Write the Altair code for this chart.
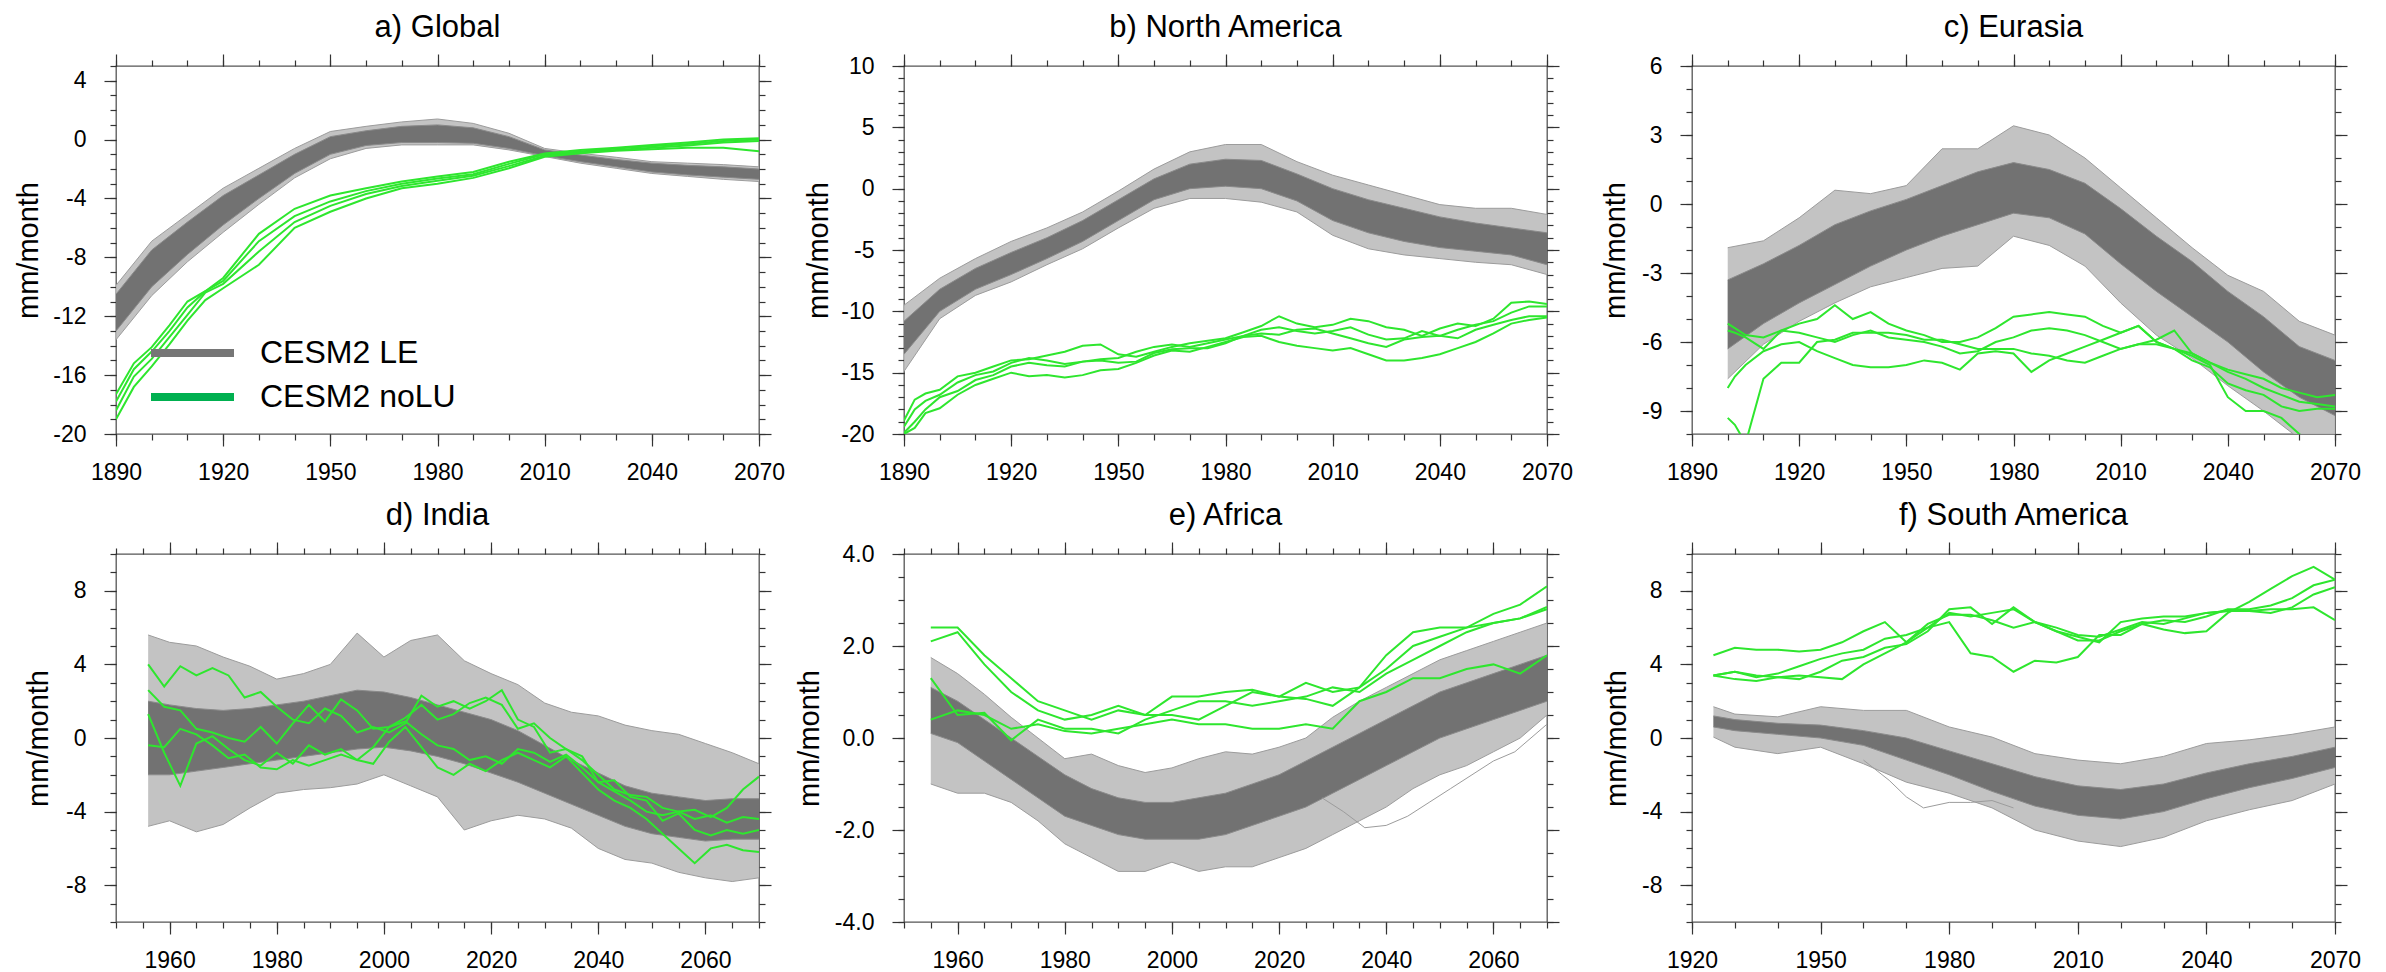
import altair as alt
import pandas as pd

FONT = "Liberation Sans"
GREEN = "#2ee62e"
CORE = "#6e6e6e"
ENV = "#bdbdbd"
EDGE = "#9c9c9c"
LEG_GRAY = "#767676"
LEG_GREEN = "#00b050"
TICK = "#333333"
FRAME = "#555555"

TITLES = ["a) Global", "b) North America", "c) Eurasia", "d) India", "e) Africa", "f) South America"]
Y_TITLE = "mm/month"
LEGEND_LABELS = ["CESM2 LE", "CESM2 noLU"]

# ---------------- a) Global ----------------
A_YEARS = [1890, 1900, 1910, 1920, 1930, 1940, 1950, 1960, 1970, 1980, 1990, 2000, 2010, 2020, 2030, 2040, 2050, 2060, 2070]
A_ENV_TOP = [-9.9, -6.9, -5.1, -3.3, -1.95, -0.6, 0.55, 0.9, 1.2, 1.4, 1.1, 0.43, -0.6, -0.93, -1.2, -1.5, -1.6, -1.7, -1.85]
A_ENV_BOT = [-13.6, -10.6, -8.3, -6.3, -4.4, -2.6, -1.3, -0.6, -0.36, -0.36, -0.36, -0.7, -1.15, -1.6, -1.95, -2.3, -2.5, -2.7, -2.85]
A_CORE_TOP = [-10.5, -7.5, -5.6, -3.8, -2.4, -1.0, 0.2, 0.6, 0.9, 1.0, 0.8, 0.2, -0.7, -1.05, -1.35, -1.6, -1.75, -1.85, -2.0]
A_CORE_BOT = [-13.0, -10.0, -7.8, -5.8, -4.0, -2.3, -1.0, -0.4, -0.2, -0.2, -0.25, -0.6, -1.1, -1.5, -1.85, -2.2, -2.4, -2.55, -2.7]
A_G_YEARS = [1890, 1895, 1900, 1905, 1910, 1915, 1920, 1930, 1940, 1950, 1960, 1970, 1980, 1990, 2000, 2010, 2020, 2030, 2040, 2050, 2060, 2070]
A_G1 = [-17.3, -15.2, -14.1, -12.6, -11.0, -10.3, -9.4, -6.4, -4.7, -3.8, -3.3, -2.85, -2.5, -2.2, -1.5, -0.95, -0.7, -0.55, -0.36, -0.2, 0.0, 0.1]
A_G2 = [-17.8, -15.6, -14.4, -13.0, -11.4, -10.3, -9.6, -6.9, -5.2, -4.2, -3.5, -3.0, -2.65, -2.35, -1.65, -1.0, -0.8, -0.6, -0.45, -0.3, -0.1, 0.0]
A_G3 = [-18.4, -16.1, -14.9, -13.4, -11.9, -10.4, -9.8, -7.6, -5.6, -4.5, -3.7, -3.15, -2.8, -2.45, -1.8, -1.1, -0.85, -0.7, -0.55, -0.4, -0.2, -0.1]
A_G4 = [-19.0, -16.8, -15.4, -13.9, -12.3, -10.9, -10.1, -8.5, -6.0, -4.9, -4.0, -3.3, -3.0, -2.6, -1.95, -1.16, -0.93, -0.75, -0.65, -0.55, -0.55, -0.8]

# ---------------- b) North America ----------------
B_YEARS = [1890, 1900, 1910, 1920, 1930, 1940, 1950, 1960, 1970, 1980, 1990, 2000, 2010, 2020, 2030, 2040, 2050, 2060, 2070]
B_ENV_TOP = [-9.5, -7.3, -5.7, -4.3, -3.2, -1.9, -0.2, 1.6, 3.0, 3.6, 3.6, 2.2, 1.1, 0.3, -0.5, -1.3, -1.6, -1.6, -2.1]
B_ENV_BOT = [-14.9, -10.6, -8.7, -7.6, -6.2, -4.9, -3.2, -1.6, -0.8, -0.8, -1.1, -1.9, -3.8, -4.9, -5.4, -5.7, -6.0, -6.2, -7.0]
B_CORE_TOP = [-10.8, -8.2, -6.5, -5.2, -4.0, -2.6, -0.9, 0.8, 2.0, 2.4, 2.3, 1.2, 0.0, -0.9, -1.6, -2.3, -2.8, -3.2, -3.6]
B_CORE_BOT = [-13.5, -10.0, -8.2, -7.0, -5.7, -4.3, -2.6, -0.9, 0.0, 0.2, 0.0, -1.0, -2.6, -3.6, -4.3, -4.8, -5.1, -5.4, -6.2]
B_G_YEARS = [1890, 1893, 1896, 1900, 1905, 1910, 1915, 1920, 1925, 1930, 1935, 1940, 1945, 1950, 1955, 1960, 1965, 1970, 1975,
             1980, 1985, 1990, 1995, 2000, 2005, 2010, 2015, 2020, 2025, 2030, 2035, 2040, 2045, 2050, 2055, 2060, 2065, 2070]
B_G1 = [-18.9, -17.2, -16.7, -16.4, -15.3, -15.0, -14.5, -14.0, -13.9, -13.6, -13.3, -12.8, -12.7, -13.5, -13.7, -13.3, -12.9, -12.6, -12.4,
        -12.2, -11.7, -11.2, -10.4, -11.0, -11.3, -11.1, -10.6, -10.8, -11.3, -11.5, -12.0, -11.4, -11.0, -11.2, -10.6, -9.3, -9.2, -9.4]
B_G2 = [-19.4, -18.0, -17.3, -16.8, -15.8, -15.2, -14.9, -14.2, -13.8, -14.0, -14.3, -14.1, -13.9, -13.8, -13.3, -12.9, -12.7, -12.9, -12.6,
        -12.3, -12.0, -11.5, -11.3, -11.6, -11.8, -11.6, -11.3, -11.9, -12.3, -12.2, -11.6, -12.0, -11.5, -11.1, -10.8, -10.1, -9.6, -9.6]
B_G3 = [-19.9, -19.0, -18.0, -17.0, -16.5, -15.6, -15.2, -14.5, -14.2, -14.4, -14.5, -14.1, -14.0, -14.2, -14.1, -13.4, -13.1, -13.0, -13.0,
        -12.6, -12.0, -11.8, -11.9, -11.5, -11.4, -11.8, -12.2, -12.6, -12.9, -12.3, -12.1, -12.0, -12.2, -11.5, -11.1, -10.7, -10.4, -10.4]
B_G4 = [-20.0, -19.5, -18.3, -17.9, -16.8, -16.0, -15.5, -15.0, -15.3, -15.2, -15.4, -15.2, -14.8, -14.7, -14.2, -13.6, -13.2, -13.3, -12.9,
        -12.5, -12.1, -12.0, -12.5, -12.8, -13.0, -13.2, -13.0, -13.5, -14.0, -14.0, -13.8, -13.5, -13.0, -12.5, -11.8, -11.0, -10.7, -10.5]

# ---------------- c) Eurasia ----------------
C_YEARS = [1900, 1910, 1920, 1930, 1940, 1950, 1960, 1970, 1980, 1990, 2000, 2010, 2020, 2030, 2040, 2050, 2060, 2070]
C_ENV_TOP = [-1.9, -1.6, -0.6, 0.6, 0.45, 0.8, 2.4, 2.4, 3.4, 3.0, 2.0, 0.7, -0.6, -1.9, -3.1, -3.8, -5.1, -5.7]
C_ENV_BOT = [-7.6, -6.1, -5.1, -4.3, -3.6, -3.2, -2.8, -2.7, -1.4, -1.8, -2.7, -4.3, -5.7, -6.7, -7.9, -9.0, -10.2, -10.4]
C_CORE_TOP = [-3.3, -2.6, -1.8, -0.9, -0.3, 0.2, 0.8, 1.4, 1.8, 1.5, 0.9, -0.2, -1.4, -2.5, -3.8, -4.9, -6.2, -6.8]
C_CORE_BOT = [-6.3, -5.2, -4.3, -3.5, -2.7, -2.0, -1.4, -0.9, -0.4, -0.6, -1.3, -2.6, -3.8, -4.9, -6.0, -7.3, -8.4, -9.2]
C_G_YEARS = [1900, 1902, 1905, 1910, 1915, 1920, 1925, 1930, 1935, 1940, 1945, 1950, 1955, 1960, 1965, 1970, 1975, 1980,
             1985, 1990, 1995, 2000, 2005, 2010, 2015, 2020, 2025, 2030, 2035, 2040, 2045, 2050, 2055, 2060, 2065, 2070]
C_G1 = [-5.2, -5.4, -5.7, -5.8, -5.5, -5.2, -5.0, -4.4, -5.0, -4.7, -5.2, -5.5, -5.7, -6.0, -6.0, -5.8, -5.4, -4.9,
        -4.8, -4.7, -4.8, -4.9, -5.3, -5.6, -5.3, -6.0, -6.3, -6.5, -6.9, -7.2, -7.4, -7.6, -8.0, -8.2, -8.4, -8.3]
C_G2 = [-5.5, -5.6, -5.8, -6.3, -5.5, -5.6, -5.8, -6.0, -5.7, -5.5, -5.8, -5.9, -6.0, -6.2, -6.5, -6.4, -6.0, -5.8,
        -5.5, -5.4, -5.5, -5.7, -6.0, -6.3, -6.1, -5.9, -5.5, -6.5, -6.9, -7.3, -7.6, -8.0, -8.3, -8.6, -8.7, -8.8]
C_G3 = [-8.0, -7.5, -7.0, -6.4, -6.1, -6.0, -6.4, -6.7, -7.0, -7.1, -7.1, -7.0, -6.8, -6.9, -7.2, -6.5, -6.4, -6.5,
        -7.3, -6.8, -6.5, -6.2, -5.9, -5.6, -5.3, -6.0, -6.3, -6.8, -7.1, -7.8, -8.1, -8.3, -8.8, -9.0, -8.9, -8.9]
C_G4 = [-9.3, -9.6, -10.4, -7.6, -6.9, -6.9, -6.0, -5.9, -5.6, -5.6, -5.6, -5.7, -5.9, -5.9, -6.1, -6.3, -6.3, -6.3,
        -6.5, -6.6, -6.8, -6.9, -6.6, -6.3, -6.1, -6.1, -6.3, -6.6, -7.0, -8.4, -9.0, -9.0, -9.3, -10.0, -10.6, -10.9]

# ---------------- d) India ----------------
D_YEARS = [1956, 1960, 1965, 1970, 1975, 1980, 1985, 1990, 1995, 2000, 2005, 2010, 2015, 2020, 2025, 2030, 2035, 2040,
           2045, 2050, 2055, 2060, 2065, 2070]
D_ENV_TOP = [5.6, 5.2, 5.0, 4.4, 3.9, 3.2, 3.5, 4.0, 5.7, 4.4, 5.3, 5.6, 4.2, 3.5, 2.9, 1.9, 1.4, 1.2, 0.7, 0.4, 0.2, -0.3, -0.8, -1.4]
D_ENV_BOT = [-4.8, -4.5, -5.1, -4.7, -3.8, -3.0, -2.8, -2.7, -2.5, -2.0, -2.6, -3.2, -5.0, -4.5, -4.2, -4.4, -4.9, -6.0, -6.6, -6.8, -7.3, -7.6, -7.8, -7.6]
D_CORE_TOP = [2.0, 1.8, 1.6, 1.5, 1.6, 1.8, 2.0, 2.3, 2.6, 2.5, 2.2, 1.8, 1.4, 1.0, 0.4, -0.4, -1.2, -1.9, -2.6, -3.0, -3.2, -3.4, -3.3, -3.3]
D_CORE_BOT = [-2.0, -2.0, -1.8, -1.6, -1.4, -1.2, -1.0, -0.8, -0.6, -0.5, -0.7, -1.0, -1.4, -1.9, -2.4, -3.0, -3.6, -4.2, -4.8, -5.2, -5.4, -5.6, -5.5, -5.5]
D_G_YEARS = [1956, 1959, 1962, 1965, 1968, 1971, 1974, 1977, 1980, 1983, 1986, 1989, 1992, 1995, 1998, 2001, 2004, 2007, 2010, 2013,
             2016, 2019, 2022, 2025, 2028, 2031, 2034, 2037, 2040, 2043, 2046, 2049, 2052, 2055, 2058, 2061, 2064, 2067, 2070]
D_G1 = [4.0, 2.8, 3.9, 3.4, 3.8, 3.4, 2.2, 2.5, 1.7, 1.0, 0.8, 1.6, 1.2, 0.3, 0.6, 0.3, 0.8, 2.3, 1.7, 2.0,
        1.6, 2.0, 2.6, 1.0, 0.6, -0.8, -0.6, -1.2, -2.0, -2.8, -3.1, -3.2, -3.8, -4.0, -3.9, -4.3, -3.8, -2.8, -2.1]
D_G2 = [2.6, 1.7, 1.5, 0.5, 0.3, 0.0, -0.2, 0.6, -0.3, 0.8, 1.8, 0.9, 2.1, 1.5, 0.5, 0.6, 1.1, 1.8, 1.0, 1.3,
        1.9, 2.2, 1.8, 0.5, 0.8, 0.0, -0.6, -1.0, -2.4, -2.3, -3.2, -3.4, -4.5, -4.1, -5.0, -5.3, -5.0, -5.2, -5.0]
D_G3 = [1.3, -0.8, -2.6, -0.3, 0.1, -0.6, -1.2, -1.5, -0.8, -1.4, -0.4, -0.9, -0.6, -1.2, -0.5, 0.6, 0.9, 0.2, -0.4, -0.6,
        -1.2, -1.0, -1.4, -0.6, -0.8, -1.3, -0.9, -1.6, -2.4, -2.9, -3.4, -4.0, -4.2, -4.0, -4.4, -4.2, -4.6, -4.3, -4.4]
D_G4 = [-0.4, -0.5, 0.5, 0.2, -0.4, -1.1, -0.9, -1.6, -1.7, -1.2, -1.5, -1.2, -0.9, -1.2, -1.4, -0.2, 0.6, -0.5, -1.6, -2.0,
        -1.4, -1.8, -1.2, -0.8, -1.2, -1.6, -1.0, -1.9, -2.8, -3.4, -3.8, -4.4, -5.2, -6.0, -6.8, -6.0, -5.8, -6.1, -6.2]

# ---------------- e) Africa ----------------
E_YEARS = [1955, 1960, 1965, 1970, 1975, 1980, 1985, 1990, 1995, 2000, 2005, 2010, 2015, 2020, 2025, 2030, 2035, 2040,
           2045, 2050, 2055, 2060, 2065, 2070]
E_ENV_TOP = [1.75, 1.4, 0.95, 0.45, 0.0, -0.45, -0.35, -0.6, -0.75, -0.65, -0.45, -0.3, -0.35, -0.2, 0.0, 0.45, 0.8, 1.1, 1.4, 1.7, 1.9, 2.1, 2.3, 2.5]
E_ENV_BOT = [-1.0, -1.2, -1.2, -1.4, -1.8, -2.3, -2.6, -2.9, -2.9, -2.7, -2.9, -2.8, -2.8, -2.6, -2.4, -2.1, -1.8, -1.5, -1.1, -0.8, -0.6, -0.3, 0.0, 0.5]
E_CORE_TOP = [1.1, 0.8, 0.4, 0.0, -0.4, -0.8, -1.1, -1.3, -1.4, -1.4, -1.3, -1.2, -1.0, -0.8, -0.5, -0.2, 0.1, 0.4, 0.7, 1.0, 1.2, 1.4, 1.6, 1.8]
E_CORE_BOT = [0.1, -0.1, -0.5, -0.9, -1.3, -1.7, -1.9, -2.1, -2.2, -2.2, -2.2, -2.1, -1.9, -1.7, -1.5, -1.2, -0.9, -0.6, -0.3, 0.0, 0.2, 0.4, 0.6, 0.8]
E_OUT_YEARS = [2028, 2032, 2036, 2040, 2044, 2048, 2052, 2056, 2060, 2064, 2070]
E_OUT = [-1.3, -1.6, -1.95, -1.9, -1.7, -1.4, -1.1, -0.8, -0.5, -0.3, 0.3]
E_G1 = [2.4, 2.4, 1.8, 1.3, 0.8, 0.6, 0.4, 0.6, 0.5, 0.9, 0.9, 1.0, 1.05, 0.9, 1.2, 1.0, 1.1, 1.8, 2.3, 2.4, 2.4, 2.7, 2.9, 3.3]
E_G2 = [2.1, 2.3, 1.6, 1.0, 0.6, 0.4, 0.5, 0.7, 0.5, 0.5, 0.4, 0.7, 1.0, 0.9, 0.85, 0.7, 1.1, 1.5, 2.0, 2.2, 2.4, 2.5, 2.6, 2.85]
E_G3 = [1.3, 0.5, 0.55, -0.05, 0.4, 0.2, 0.2, 0.1, 0.4, 0.6, 0.8, 0.8, 0.7, 0.8, 0.9, 1.1, 1.0, 1.4, 1.7, 2.0, 2.3, 2.5, 2.6, 2.8]
E_G4 = [0.4, 0.6, 0.5, 0.2, 0.3, 0.15, 0.1, 0.2, 0.3, 0.4, 0.3, 0.3, 0.2, 0.2, 0.3, 0.2, 0.8, 1.0, 1.3, 1.3, 1.5, 1.6, 1.4, 1.8]

# ---------------- f) South America ----------------
F_YEARS = [1925, 1930, 1940, 1950, 1960, 1970, 1980, 1990, 2000, 2010, 2020, 2030, 2040, 2050, 2060, 2070]
F_ENV_TOP = [1.7, 1.3, 1.15, 1.7, 1.5, 1.5, 0.6, 0.05, -0.85, -1.2, -1.4, -1.0, -0.3, -0.1, 0.2, 0.6]
F_ENV_BOT = [0.05, -0.5, -0.85, -0.5, -1.4, -2.4, -3.0, -3.8, -5.0, -5.6, -5.9, -5.4, -4.5, -3.9, -3.4, -2.5]
F_CORE_TOP = [1.2, 1.0, 0.8, 0.7, 0.4, 0.0, -0.7, -1.4, -2.1, -2.6, -2.8, -2.5, -1.9, -1.4, -1.0, -0.5]
F_CORE_BOT = [0.6, 0.4, 0.2, 0.0, -0.4, -1.2, -2.0, -2.9, -3.7, -4.2, -4.4, -4.0, -3.3, -2.7, -2.2, -1.6]
F_OUT_YEARS = [1960, 1966, 1970, 1974, 1980, 1985, 1990, 1995]
F_OUT = [-1.2, -2.3, -3.2, -3.8, -3.5, -3.5, -3.4, -3.8]
F_G_YEARS = [1925, 1930, 1935, 1940, 1945, 1950, 1955, 1960, 1965, 1970, 1975, 1980, 1985, 1990, 1995,
             2000, 2005, 2010, 2015, 2020, 2025, 2030, 2035, 2040, 2045, 2050, 2055, 2060, 2065, 2070]
F_G1 = [4.5, 4.9, 4.8, 4.8, 4.7, 4.8, 5.2, 5.8, 6.3, 5.2, 6.0, 6.8, 6.6, 6.8, 7.0, 6.3, 6.0, 5.6, 5.5, 5.9, 6.3, 6.2, 6.5, 6.8, 6.9, 6.9, 7.0, 7.0, 7.1, 6.4]
F_G2 = [3.4, 3.6, 3.3, 3.5, 3.9, 4.3, 4.6, 4.8, 5.4, 5.6, 6.0, 6.3, 4.6, 4.4, 3.6, 4.2, 4.1, 4.4, 5.6, 5.6, 6.2, 5.9, 5.7, 5.8, 6.8, 7.4, 8.1, 8.8, 9.3, 8.6]
F_G3 = [3.4, 3.2, 3.1, 3.3, 3.4, 3.3, 3.2, 4.0, 4.6, 5.2, 6.2, 6.7, 6.7, 6.4, 6.0, 6.3, 5.8, 5.3, 5.3, 5.8, 6.2, 6.4, 6.3, 6.6, 7.0, 7.0, 7.2, 7.6, 8.3, 8.6]
F_G4 = [3.4, 3.6, 3.4, 3.3, 3.2, 3.6, 4.2, 4.4, 4.9, 5.1, 5.8, 7.0, 7.1, 6.2, 7.1, 6.3, 5.8, 5.5, 5.2, 6.3, 6.5, 6.6, 6.6, 6.8, 6.9, 6.9, 6.8, 7.1, 7.8, 8.2]

W, H = 643, 368


def lab_expr(fmt):
    return "replace(format(datum.value, '" + fmt + "'), '\u2212', '-')"


def x_axis(orient, values, labels, size):
    kw = dict(orient=orient, values=values, labels=labels, tickSize=size, tickColor=TICK, tickWidth=1.2,
              domain=False, grid=False, title=None)
    if labels:
        kw.update(labelFont=FONT, labelFontSize=23, labelColor="black", labelPadding=15,
                  format="d", labelFlush=False, labelOverlap=False)
    return alt.Axis(**kw)


def y_axis(orient, values, labels, size, fmt="d", title_x=-88):
    kw = dict(orient=orient, values=values, labels=labels, tickSize=size, tickColor=TICK, tickWidth=1.2,
              domain=False, grid=False)
    if labels:
        kw.update(labelFont=FONT, labelFontSize=23, labelColor="black", labelPadding=18,
                  labelExpr=lab_expr(fmt), labelOverlap=False, labelFlush=False,
                  title=Y_TITLE, titleFont=FONT, titleFontSize=29, titleFontWeight="normal",
                  titleColor="black", titleX=title_x, titleBaseline="middle", titleAngle=270)
    else:
        kw.update(title=None)
    return alt.Axis(**kw)


def panel(title, xdom, xmaj, xmin, ydom, ymaj, ymin, yfmt, title_x,
          years, etop, ebot, ctop, cbot, gyears, greens, outliers=None, legend=False):
    xs = alt.Scale(domain=xdom, nice=False, zero=False)
    ys = alt.Scale(domain=ydom, nice=False, zero=False)
    band = pd.DataFrame({"year": years, "env_top": etop, "env_bot": ebot,
                         "core_top": ctop, "core_bot": cbot})
    rows = []
    for i, vals in enumerate(greens):
        for yr, v in zip(gyears, vals):
            rows.append({"year": yr, "value": v, "member": "noLU" + str(i + 1)})
    gdf = pd.DataFrame(rows)

    env = alt.Chart(band).mark_area(color=ENV, opacity=0.9, clip=True).encode(
        x=alt.X("year:Q", scale=xs, axis=x_axis("bottom", xmaj, True, 12)),
        y=alt.Y("env_top:Q", scale=ys, axis=y_axis("left", ymaj, True, 12, yfmt, title_x)),
        y2="env_bot:Q")
    core = alt.Chart(band).mark_area(color=CORE, opacity=0.95, clip=True).encode(
        x=alt.X("year:Q", scale=xs, axis=x_axis("top", xmaj, False, 12)),
        y=alt.Y("core_top:Q", scale=ys, axis=y_axis("right", ymaj, False, 12)),
        y2="core_bot:Q")
    edges = alt.Chart(band).transform_fold(["env_top", "env_bot"], as_=["edge", "val"]).mark_line(
        color=EDGE, strokeWidth=1, clip=True).encode(
        x=alt.X("year:Q", scale=xs, axis=x_axis("bottom", xmin, False, 6)),
        y=alt.Y("val:Q", scale=ys, axis=y_axis("left", ymin, False, 6)),
        detail="edge:N")
    cedges = alt.Chart(band).transform_fold(["core_top", "core_bot"], as_=["edge", "val"]).mark_line(
        color="#8a8a8a", strokeWidth=1, clip=True).encode(
        x=alt.X("year:Q", scale=xs, axis=None),
        y=alt.Y("val:Q", scale=ys, axis=None),
        detail="edge:N")
    green = alt.Chart(gdf).mark_line(color=GREEN, strokeWidth=2, clip=True).encode(
        x=alt.X("year:Q", scale=xs, axis=x_axis("top", xmin, False, 6)),
        y=alt.Y("value:Q", scale=ys, axis=y_axis("right", ymin, False, 6)),
        detail="member:N")
    layers = [env, core, edges, cedges]
    if outliers is not None:
        odf = pd.DataFrame({"year": outliers[0], "value": outliers[1]})
        layers.append(alt.Chart(odf).mark_line(color=EDGE, strokeWidth=1, clip=True).encode(
            x=alt.X("year:Q", scale=xs, axis=None), y=alt.Y("value:Q", scale=ys, axis=None)))
    layers.append(green)
    if legend:
        for lab, col, ypix in [(LEGEND_LABELS[0], LEG_GRAY, 287), (LEGEND_LABELS[1], LEG_GREEN, 331)]:
            ldf = pd.DataFrame({"label": [lab]})
            layers.append(alt.Chart(ldf).mark_rule(color=col, strokeWidth=8).encode(
                x=alt.value(35), x2=alt.value(118), y=alt.value(ypix)))
            layers.append(alt.Chart(ldf).mark_text(align="left", baseline="middle", font=FONT,
                                                   fontSize=32, color="black").encode(
                x=alt.value(144), y=alt.value(ypix), text="label:N"))
    return alt.layer(*layers).properties(
        width=W, height=H,
        title=alt.TitleParams(title, font=FONT, fontSize=31, fontWeight="normal", color="black",
                              anchor="middle", frame="group", offset=-15, baseline="alphabetic")
    ).resolve_axis(x="independent", y="independent")


X30 = [1890, 1920, 1950, 1980, 2010, 2040, 2070]
X10 = list(range(1890, 2071, 10))
XD = [1960, 1980, 2000, 2020, 2040, 2060]
XD5 = list(range(1950, 2071, 5))
XF = [1920, 1950, 1980, 2010, 2040, 2070]
XF10 = list(range(1920, 2071, 10))

pa = panel(TITLES[0], [1890, 2070], X30, X10, [-20, 5], [-20, -16, -12, -8, -4, 0, 4], list(range(-20, 6)), "d", -88,
           A_YEARS, A_ENV_TOP, A_ENV_BOT, A_CORE_TOP, A_CORE_BOT, A_G_YEARS, [A_G1, A_G2, A_G3, A_G4], legend=True)
pb = panel(TITLES[1], [1890, 2070], X30, X10, [-20, 10], [-20, -15, -10, -5, 0, 5, 10], list(range(-20, 11)), "d", -86,
           B_YEARS, B_ENV_TOP, B_ENV_BOT, B_CORE_TOP, B_CORE_BOT, B_G_YEARS, [B_G1, B_G2, B_G3, B_G4])
pc = panel(TITLES[2], [1890, 2070], X30, X10, [-10, 6], [-9, -6, -3, 0, 3, 6], list(range(-10, 7)), "d", -77,
           C_YEARS, C_ENV_TOP, C_ENV_BOT, C_CORE_TOP, C_CORE_BOT, C_G_YEARS, [C_G1, C_G2, C_G3, C_G4])
pd_ = panel(TITLES[3], [1950, 2070], XD, XD5, [-10, 10], [-8, -4, 0, 4, 8], list(range(-10, 11)), "d", -78,
            D_YEARS, D_ENV_TOP, D_ENV_BOT, D_CORE_TOP, D_CORE_BOT, D_G_YEARS, [D_G1, D_G2, D_G3, D_G4])
pe = panel(TITLES[4], [1950, 2070], XD, XD5, [-4, 4], [-4, -2, 0, 2, 4], [v / 2 for v in range(-8, 9)], ".1f", -95,
           E_YEARS, E_ENV_TOP, E_ENV_BOT, E_CORE_TOP, E_CORE_BOT, E_YEARS, [E_G1, E_G2, E_G3, E_G4],
           outliers=(E_OUT_YEARS, E_OUT))
pf = panel(TITLES[5], [1920, 2070], XF, XF10, [-10, 10], [-8, -4, 0, 4, 8], list(range(-10, 11)), "d", -76,
           F_YEARS, F_ENV_TOP, F_ENV_BOT, F_CORE_TOP, F_CORE_BOT, F_G_YEARS, [F_G1, F_G2, F_G3, F_G4],
           outliers=(F_OUT_YEARS, F_OUT))

chart = alt.concat(pa, pb, pc, pd_, pe, pf, columns=3, spacing={"row": 120, "column": 145},
                   bounds="flush").configure_view(stroke=FRAME, strokeWidth=1.3).properties(
    background="white", padding={"left": 5, "top": 3, "right": 5, "bottom": 0})

chart.save("out.html", embed_options={"renderer": "svg", "actions": False})
